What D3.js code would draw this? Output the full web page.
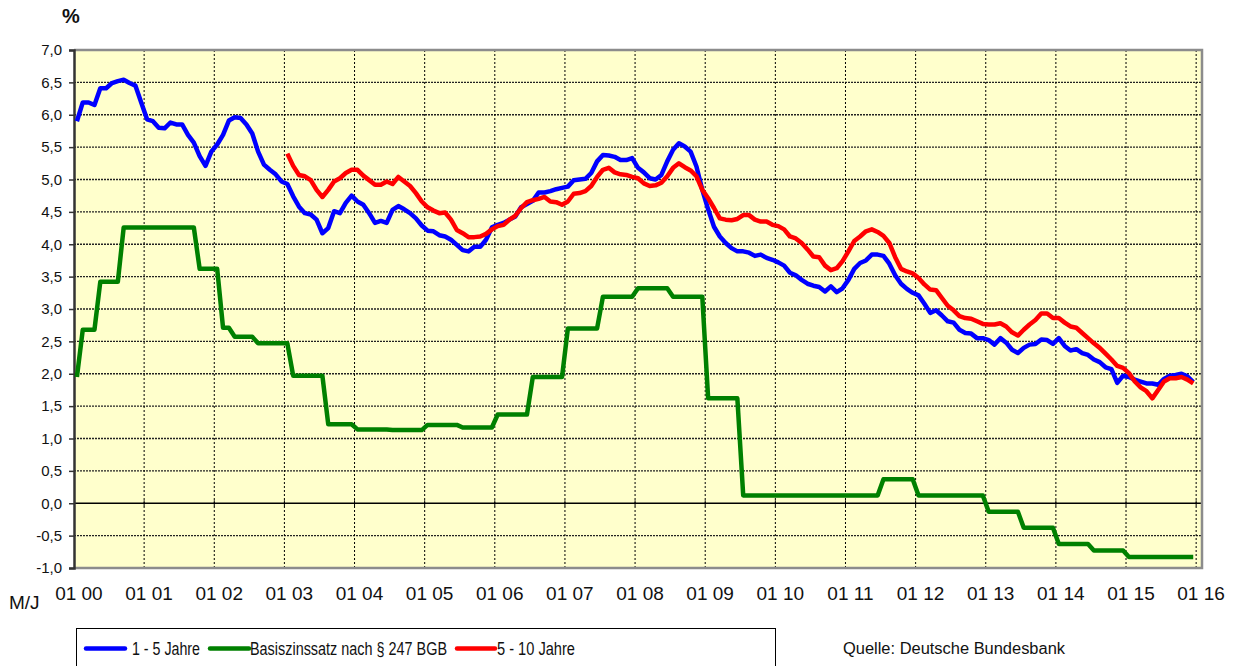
<!DOCTYPE html>
<html>
<head>
<meta charset="utf-8">
<script src="https://cdn.jsdelivr.net/npm/d3@7/dist/d3.min.js"></script>
<style>
  body { margin: 0; background: #fff; }
  svg { display: block; font-family: Arial, "Liberation Sans", sans-serif; }
</style>
</head>
<body>
<div id="chart"></div>
<script>
// monthly values, Jan 2000 .. Dec 2015
const tickLabels = ["01 00", "01 01", "01 02", "01 03", "01 04", "01 05", "01 06", "01 07",
  "01 08", "01 09", "01 10", "01 11", "01 12", "01 13", "01 14", "01 15", "01 16"];

const rate1to5 = [
  5.90, 6.19, 6.19, 6.15, 6.41, 6.41, 6.49, 6.52, 6.54, 6.49, 6.45, 6.19,
  5.93, 5.90, 5.80, 5.79, 5.88, 5.85, 5.85, 5.69, 5.57, 5.36, 5.21, 5.43,
  5.54, 5.69, 5.91, 5.96, 5.95, 5.85, 5.71, 5.43, 5.23, 5.15, 5.08, 4.97,
  4.93, 4.74, 4.58, 4.48, 4.46, 4.38, 4.17, 4.25, 4.51, 4.48, 4.64, 4.75,
  4.66, 4.61, 4.48, 4.33, 4.36, 4.33, 4.53, 4.59, 4.54, 4.48, 4.40, 4.29,
  4.21, 4.20, 4.14, 4.12, 4.07, 3.99, 3.91, 3.89, 3.96, 3.96, 4.07, 4.26,
  4.30, 4.33, 4.38, 4.43, 4.57, 4.62, 4.67, 4.80, 4.80, 4.82, 4.85, 4.87,
  4.89, 4.99, 5.00, 5.01, 5.10, 5.28, 5.38, 5.37, 5.35, 5.30, 5.30, 5.33,
  5.18, 5.11, 5.02, 5.00, 5.07, 5.28, 5.46, 5.56, 5.51, 5.43, 5.20, 4.84,
  4.54, 4.27, 4.12, 4.02, 3.94, 3.89, 3.89, 3.87, 3.82, 3.84, 3.79, 3.76,
  3.72, 3.67, 3.56, 3.52, 3.45, 3.39, 3.36, 3.34, 3.27, 3.35, 3.26, 3.32,
  3.45, 3.62, 3.71, 3.75, 3.84, 3.84, 3.82, 3.70, 3.52, 3.39, 3.31, 3.25,
  3.21, 3.08, 2.94, 2.98, 2.90, 2.81, 2.79, 2.68, 2.63, 2.62, 2.55, 2.55,
  2.52, 2.45, 2.55, 2.48, 2.37, 2.32, 2.40, 2.45, 2.46, 2.53, 2.52, 2.46,
  2.55, 2.43, 2.36, 2.38, 2.32, 2.29, 2.22, 2.18, 2.10, 2.07, 1.86, 1.97,
  1.95, 1.91, 1.88, 1.85, 1.85, 1.83, 1.92, 1.97, 1.98, 2.00, 1.96, 1.87
];

const basiszins = [
  1.95, 2.68, 2.68, 2.68, 3.42, 3.42, 3.42, 3.42, 4.26, 4.26, 4.26, 4.26,
  4.26, 4.26, 4.26, 4.26, 4.26, 4.26, 4.26, 4.26, 4.26, 3.62, 3.62, 3.62,
  3.62, 2.71, 2.71, 2.57, 2.57, 2.57, 2.57, 2.47, 2.47, 2.47, 2.47, 2.47,
  2.47, 1.97, 1.97, 1.97, 1.97, 1.97, 1.97, 1.22, 1.22, 1.22, 1.22, 1.22,
  1.14, 1.14, 1.14, 1.14, 1.14, 1.14, 1.13, 1.13, 1.13, 1.13, 1.13, 1.13,
  1.21, 1.21, 1.21, 1.21, 1.21, 1.21, 1.17, 1.17, 1.17, 1.17, 1.17, 1.17,
  1.37, 1.37, 1.37, 1.37, 1.37, 1.37, 1.95, 1.95, 1.95, 1.95, 1.95, 1.95,
  2.70, 2.70, 2.70, 2.70, 2.70, 2.70, 3.19, 3.19, 3.19, 3.19, 3.19, 3.19,
  3.32, 3.32, 3.32, 3.32, 3.32, 3.32, 3.19, 3.19, 3.19, 3.19, 3.19, 3.19,
  1.62, 1.62, 1.62, 1.62, 1.62, 1.62, 0.12, 0.12, 0.12, 0.12, 0.12, 0.12,
  0.12, 0.12, 0.12, 0.12, 0.12, 0.12, 0.12, 0.12, 0.12, 0.12, 0.12, 0.12,
  0.12, 0.12, 0.12, 0.12, 0.12, 0.12, 0.37, 0.37, 0.37, 0.37, 0.37, 0.37,
  0.12, 0.12, 0.12, 0.12, 0.12, 0.12, 0.12, 0.12, 0.12, 0.12, 0.12, 0.12,
  -0.13, -0.13, -0.13, -0.13, -0.13, -0.13, -0.38, -0.38, -0.38, -0.38, -0.38, -0.38,
  -0.63, -0.63, -0.63, -0.63, -0.63, -0.63, -0.73, -0.73, -0.73, -0.73, -0.73, -0.73,
  -0.83, -0.83, -0.83, -0.83, -0.83, -0.83, -0.83, -0.83, -0.83, -0.83, -0.83, -0.83
];

// 5-10 Jahre starts in Jan 2003 (month index 36)
const rate5to10Start = 36;
const rate5to10 = [
  5.40, 5.21, 5.07, 5.05, 4.99, 4.84, 4.73, 4.84, 4.97, 5.02, 5.10, 5.15,
  5.15, 5.06, 4.99, 4.92, 4.92, 4.97, 4.93, 5.04, 4.97, 4.90, 4.79, 4.66,
  4.57, 4.52, 4.48, 4.49, 4.38, 4.22, 4.17, 4.11, 4.11, 4.12, 4.16, 4.23,
  4.28, 4.30, 4.38, 4.44, 4.56, 4.65, 4.68, 4.70, 4.73, 4.66, 4.65, 4.61,
  4.66, 4.78, 4.79, 4.82, 4.90, 5.04, 5.15, 5.18, 5.11, 5.08, 5.07, 5.04,
  5.02, 4.94, 4.90, 4.91, 4.95, 5.05, 5.18, 5.25, 5.19, 5.14, 5.05, 4.84,
  4.71, 4.56, 4.40, 4.38, 4.37, 4.39, 4.45, 4.45, 4.38, 4.35, 4.35, 4.30,
  4.28, 4.23, 4.12, 4.09, 4.02, 3.92, 3.81, 3.80, 3.67, 3.60, 3.63, 3.74,
  3.89, 4.05, 4.12, 4.20, 4.23, 4.19, 4.13, 4.02, 3.80, 3.62, 3.58, 3.55,
  3.48, 3.38, 3.30, 3.29, 3.17, 3.05, 2.98, 2.89, 2.86, 2.85, 2.81, 2.77,
  2.76, 2.76, 2.78, 2.73, 2.64, 2.59, 2.68, 2.76, 2.83, 2.93, 2.93, 2.86,
  2.86, 2.79, 2.73, 2.71, 2.63, 2.55, 2.47, 2.40, 2.31, 2.22, 2.12, 2.09,
  2.01, 1.88, 1.79, 1.73, 1.62, 1.75, 1.88, 1.93, 1.93, 1.95, 1.91, 1.85
];

const yTicks = d3.range(-1, 7.01, 0.5);

const width = 1237, height = 666;
const plot = { left: 74, right: 1202, top: 50, bottom: 568 };
const nCat = tickLabels.length * 12 - 11; // Jan 2000 .. Jan 2016

const svg = d3.select("#chart").append("svg")
  .attr("width", width).attr("height", height);

const x = d3.scaleBand()
  .domain(d3.range(nCat))
  .range([plot.left, plot.right])
  .paddingInner(0).paddingOuter(0);
const xc = (i) => x(i) + x.bandwidth() / 2;

const y = d3.scaleLinear().domain([-1, 7]).range([plot.bottom, plot.top]);

// plot background
svg.append("rect")
  .attr("x", plot.left).attr("y", plot.top)
  .attr("width", plot.right - plot.left).attr("height", plot.bottom - plot.top)
  .attr("fill", "#ffffcc");

// horizontal grid
svg.append("g")
  .selectAll("line")
  .data(yTicks.filter((v) => v > -1 && v < 7 && Math.abs(v) > 1e-9))
  .join("line")
  .attr("x1", plot.left).attr("x2", plot.right)
  .attr("y1", (d) => y(d)).attr("y2", (d) => y(d))
  .attr("stroke", "#222")
  .attr("stroke-width", 1.3)
  .attr("stroke-dasharray", "2,1");

// vertical grid at each January
svg.append("g")
  .selectAll("line")
  .data(d3.range(12, nCat, 12))
  .join("line")
  .attr("x1", (d) => x(d)).attr("x2", (d) => x(d))
  .attr("y1", plot.top).attr("y2", plot.bottom)
  .attr("stroke", "#000")
  .attr("stroke-width", 1)
  .attr("stroke-dasharray", "2,2");

// zero line
svg.append("line")
  .attr("x1", plot.left).attr("x2", plot.right)
  .attr("y1", y(0)).attr("y2", y(0))
  .attr("stroke", "#000").attr("stroke-width", 1.3);

svg.append("g")
  .selectAll("line")
  .data(d3.range(12, nCat, 12))
  .join("line")
  .attr("x1", (d) => x(d)).attr("x2", (d) => x(d))
  .attr("y1", y(0) - 3).attr("y2", y(0) + 3)
  .attr("stroke", "#000");

// plot frame
svg.append("path")
  .attr("d", `M${plot.left},${plot.top}H${plot.right}V${plot.bottom}H${plot.left}`)
  .attr("fill", "none")
  .attr("stroke", "#8c8c8c")
  .attr("stroke-width", 2.5);

// y axis
const yAxis = svg.append("g")
  .attr("transform", `translate(${plot.left},0)`)
  .call(d3.axisLeft(y).tickValues(yTicks).tickSize(5).tickPadding(7)
    .tickFormat((d) => d3.format(".1f")(d).replace(".", ",").replace("−", "-")));
yAxis.select(".domain").attr("stroke", "#333").attr("stroke-width", 2.5);
yAxis.selectAll(".tick line").attr("stroke", "#333").attr("stroke-width", 1.5);
yAxis.selectAll(".tick text")
  .attr("font-size", 15)
  .attr("font-family", "Arial, 'Liberation Sans', sans-serif")
  .attr("fill", "#111");

// x labels
svg.append("g")
  .selectAll("text")
  .data(tickLabels)
  .join("text")
  .attr("x", (d, i) => xc(i * 12) + 2)
  .attr("y", 600)
  .attr("text-anchor", "middle")
  .attr("font-size", 19)
  .attr("fill", "#111")
  .text((d) => d);

svg.append("text")
  .attr("x", 9).attr("y", 609)
  .attr("font-size", 19).attr("fill", "#111")
  .text("M/J");

svg.append("text")
  .attr("x", 62).attr("y", 23)
  .attr("font-size", 20).attr("font-weight", "bold").attr("fill", "#111")
  .text("%");

// series
const series = [
  { name: "1 - 5 Jahre", color: "#0000ff", values: rate1to5.map((v, i) => [i, v]) },
  { name: "Basiszinssatz nach § 247 BGB", color: "#008000", values: basiszins.map((v, i) => [i, v]) },
  { name: "5 - 10 Jahre", color: "#ff0000", values: rate5to10.map((v, i) => [i + rate5to10Start, v]) }
];

const line = d3.line()
  .x((d) => xc(d[0]))
  .y((d) => y(d[1]));

svg.append("g")
  .selectAll("path")
  .data([series[1], series[0], series[2]])
  .join("path")
  .attr("d", (d) => line(d.values))
  .attr("fill", "none")
  .attr("stroke", (d) => d.color)
  .attr("stroke-width", 4.5)
  .attr("stroke-linejoin", "round");

// legend
svg.append("rect")
  .attr("x", 76.5).attr("y", 628.5)
  .attr("width", 699).attr("height", 45)
  .attr("fill", "#fff").attr("stroke", "#000");

const legendItems = [
  { s: series[0], x0: 86, x1: 125, tx: 132, tw: 68 },
  { s: series[1], x0: 210, x1: 249, tx: 250, tw: 197 },
  { s: series[2], x0: 457, x1: 495, tx: 497, tw: 78 }
];
const lg = svg.append("g");
lg.selectAll("line")
  .data(legendItems)
  .join("line")
  .attr("x1", (d) => d.x0).attr("x2", (d) => d.x1)
  .attr("y1", 648.5).attr("y2", 648.5)
  .attr("stroke", (d) => d.s.color)
  .attr("stroke-width", 4.5)
  .attr("stroke-linecap", "round");
lg.selectAll("text")
  .data(legendItems)
  .join("text")
  .attr("x", (d) => d.tx).attr("y", 655)
  .attr("font-size", 17.5)
  .attr("fill", "#111")
  .attr("textLength", (d) => d.tw)
  .attr("lengthAdjust", "spacingAndGlyphs")
  .text((d) => d.s.name);

svg.append("text")
  .attr("x", 843).attr("y", 654)
  .attr("font-size", 16)
  .attr("fill", "#111")
  .attr("textLength", 222)
  .attr("lengthAdjust", "spacingAndGlyphs")
  .text("Quelle: Deutsche Bundesbank");
</script>
</body>
</html>
